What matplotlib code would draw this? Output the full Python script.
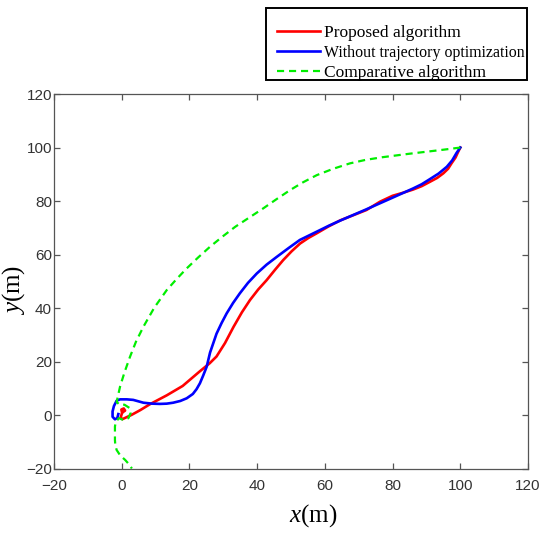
import matplotlib
matplotlib.use('Agg')
import matplotlib.pyplot as plt
from matplotlib.patches import Rectangle

plt.rcParams['mathtext.fontset'] = 'custom'
plt.rcParams['mathtext.it'] = 'Liberation Serif:italic'
plt.rcParams['mathtext.rm'] = 'Liberation Serif'

# proposed algorithm (red)
red_x = [0.3, 1.0, 0.6, -0.1, 0.1, -0.3, 0.2, 2.9, 5.5, 8.35, 13.3, 18.0, 23.1, 26.0, 28.0,
         30.5, 33.0, 35.5, 37.9, 40.3, 42.8, 45.3, 47.7, 50.2, 52.7, 55.2, 57.6, 61.0, 64.5,
         68.5, 72.3, 76.3, 80.0, 83.0, 86.0, 88.6, 91.0, 93.2, 95.0, 96.4, 97.4, 98.6,
         99.4, 100.0]
red_y = [1.2, 1.8, 2.6, 2.2, 1.0, -0.8, -1.4, 0.2, 2.0, 4.2, 7.5, 11.0, 16.5, 19.5, 22.0,
         27.0, 33.0, 38.5, 43.1, 47.0, 50.5, 54.4, 58.0, 61.3, 64.2, 66.3, 68.0, 70.5, 72.8,
         74.8, 76.7, 79.8, 82.0, 83.1, 84.3, 85.6, 87.2, 88.7, 90.4, 92.1, 94.1, 96.3,
         98.5, 100.0]

# without trajectory optimization (blue)
blue_x = [-1.0, -1.3, -2.0, -2.7, -2.7, -2.3, -1.5, -0.5, 1.5, 3.4, 6.4, 9.0, 11.3, 13.3,
          15.2, 17.3, 19.2, 21.0, 22.1, 23.1, 24.1, 25.1, 26.1, 28.0, 29.5, 31.0, 32.9,
          34.9, 37.3, 39.9, 42.8, 45.8, 49.2, 52.6, 57.6, 61.3, 65.0, 72.0, 80.0, 86.0,
          88.6, 91.0, 93.6, 96.0, 97.6, 98.9, 100.0]
blue_y = [0.5, -1.0, -1.45, -0.5, 1.5, 3.5, 5.5, 6.0, 6.0, 5.8, 4.75, 4.4, 4.3, 4.4, 4.75,
          5.4, 6.4, 8.0, 9.8, 12.0, 15.0, 18.2, 23.5, 30.5, 34.5, 38.1, 42.0, 45.6, 49.5,
          53.0, 56.3, 59.2, 62.4, 65.5, 68.6, 70.9, 73.0, 76.8, 81.3, 84.7, 86.3, 88.2,
          90.3, 92.8, 95.2, 98.0, 100.0]

# comparative algorithm (green)
green_x = [100.0, 95.0, 89.0, 85.0, 77.0, 72.0, 67.4, 62.5, 57.6, 53.5, 49.7, 45.8, 41.8,
           37.7, 33.5, 29.8, 26.1, 22.6, 19.2, 16.2, 13.3, 9.6, 6.4, 4.2, 2.45, 0.8, -0.5,
           -1.5, -0.6, 0.8, 2.3, 2.6, 2.0, 0.6, -0.8, -1.8, -2.0, -2.0, -1.9, -1.5, -0.4,
           1.0, 2.2, 3.0]
green_y = [100.0, 99.2, 98.3, 97.7, 96.4, 95.4, 94.1, 92.1, 89.7, 87.0, 84.1, 80.8, 77.3,
           73.9, 70.4, 66.8, 63.0, 59.0, 54.9, 50.9, 46.8, 40.2, 33.1, 27.5, 21.9, 16.0,
           10.7, 5.0, 4.0, 4.0, 2.8, 0.8, -1.0, -1.8, -1.0, -2.5, -4.2, -9.2, -11.0, -12.9,
           -15.0, -16.6, -18.3, -19.8]

ticks = [-20, 0, 20, 40, 60, 80, 100, 120]

fig = plt.figure(figsize=(5.5, 5.36), dpi=100)
ax = fig.add_axes([54 / 550, 1 - 469 / 536, 474 / 550, 375 / 536])

l1, = ax.plot(red_x, red_y, color='#ff0000', lw=1.9, label='Proposed algorithm')
l2, = ax.plot(blue_x, blue_y, color='#0000ff', lw=1.9, label='Without trajectory optimization')
l3, = ax.plot(green_x, green_y, color='#00ee00', lw=1.6, ls=(0, (3.2, 2.2)),
              label='Comparative algorithm')

ax.set_xlim(-20, 120)
ax.set_ylim(-20, 120)
ax.set_xticks(ticks)
ax.set_yticks(ticks)
gray = '#555555'
for s in ax.spines.values():
    s.set_color(gray)
    s.set_linewidth(0.9)
ax.tick_params(direction='in', length=4, width=0.9, colors=gray, top=True, right=True,
               labelsize=11, labelcolor='#333333')
ax.tick_params(axis='x', pad=7)
ax.tick_params(axis='y', pad=1.5)
for t in ax.get_xticklabels() + ax.get_yticklabels():
    t.set_fontfamily('Liberation Sans')

ax.set_xlabel(r'$\mathit{x}$(m)', fontsize=18, family='Liberation Serif')
ax.set_ylabel(r'$\mathit{y}$(m)', fontsize=18, family='Liberation Serif')
ax.xaxis.set_label_coords(0.546, -0.088)
ax.yaxis.set_label_coords(-0.057, 0.477)

# legend box
fig.patches.append(Rectangle((266 / 550, 1 - 80 / 536), 261 / 550, 72 / 536,
                             transform=fig.transFigure, fill=False, edgecolor='black',
                             lw=1.4))
leg = fig.legend(handles=[l1, l2, l3], loc='upper left',
                 bbox_to_anchor=(277 / 550, 1 - 25 / 536), frameon=False,
                 prop={'family': 'Liberation Serif', 'size': 12.5},
                 handlelength=2.5, handletextpad=0.2, labelspacing=0.22,
                 borderpad=0, borderaxespad=0)
leg.get_texts()[1].set_fontsize(11.4)

fig.savefig('out.png', dpi=100)
